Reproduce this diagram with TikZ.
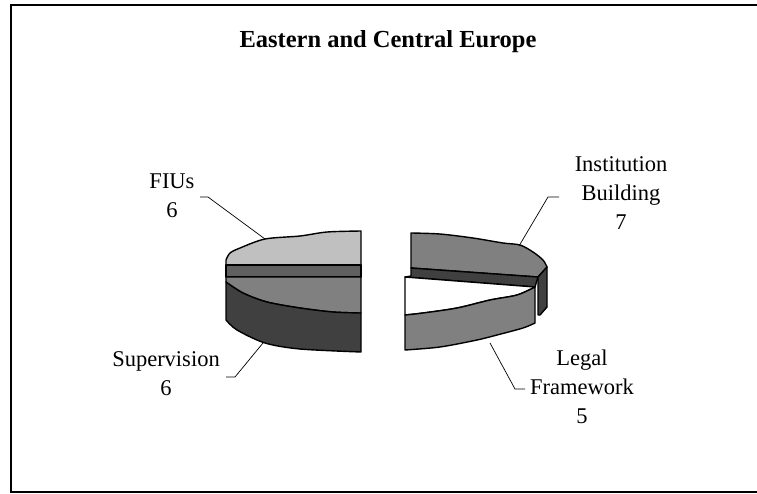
\documentclass[tikz,border=0pt]{standalone}
\usepackage{fontspec}
\setmainfont{Liberation Serif}
\usepackage{xcolor}
\definecolor{lightslice}{RGB}{192,192,192}
\definecolor{midslice}{RGB}{128,128,128}
\definecolor{bandslice}{RGB}{96,96,96}
\definecolor{darkslice}{RGB}{64,64,64}
\usepackage{tikz}
\newcommand{\labelsize}{\fontsize{22.5}{29}\selectfont}
\newcommand{\titlesize}{\fontsize{24.5}{29}\selectfont\bfseries}
\tikzset{
    slice/.style={draw=black, line width=1.4pt, line join=round},
    leader/.style={draw=black, line width=0.7pt},
    frameline/.style={draw=black, line width=1.5pt},
    piecelabel/.style={align=center, font=\labelsize, inner sep=0pt, anchor=base},
    charttitle/.style={font=\titlesize, inner sep=0pt, anchor=base}
}

\begin{document}
\begin{tikzpicture}[x=1pt, y=-1pt]
      \useasboundingbox (0,0) rectangle (757,493);
      \draw[frameline] (757,5) -- (11,5) -- (11,492) -- (757,492);

      \node[charttitle] (title) at (388,47) {Eastern and Central Europe};

      % left piece
      \path[slice, fill=lightslice] (361,231)
          -- plot[smooth] coordinates {(361,231) (327,232) (300,236) (265,239) (240,248) (230,253) (226,260)}
          -- (226,265) -- (361,265) -- cycle;
      \path[slice, fill=bandslice] (226,265) rectangle (361,277);
      \path[slice, fill=midslice] (226,277) -- (361,277) -- (361,313)
          -- plot[smooth] coordinates {(361,313) (333,312) (300,308) (267,302) (243,293) (226,282)}
          -- cycle;
      \path[slice, fill=darkslice] (226,282)
          -- plot[smooth] coordinates {(226,282) (243,293) (267,302) (300,308) (333,312) (361,313)}
          -- (361,352)
          -- plot[smooth] coordinates {(361,352) (300,349) (265,343) (237,330) (226,320)}
          -- cycle;

      % right piece
      \path[slice, fill=midslice] (411,233)
          -- plot[smooth] coordinates {(411,233) (440,234) (473,238) (503,243) (520,245) (533,252) (543,260) (547,267)}
          -- (538,277) -- (411,268) -- cycle;
      \path[slice, fill=darkslice] (411,268) -- (538,277) -- (535,287) -- (405,277) -- (411,276) -- cycle;
      \path[slice, fill=darkslice] (538,277) -- (547,267) -- (547,307) -- (540,315) -- (538,315) -- cycle;
      \path[slice, fill=white] (405,277) -- (535,287)
          -- plot[smooth] coordinates {(535,287) (517,295) (490,300) (457,308) (423,313) (405,315)}
          -- cycle;
      \path[slice, fill=midslice] (405,315)
          -- plot[smooth] coordinates {(405,315) (423,313) (457,308) (490,300) (517,295) (535,287)}
          -- (535,323)
          -- plot[smooth] coordinates {(535,323) (523,328) (497,335) (477,340) (440,347) (405,350)}
          -- cycle;

      % labels (base = last line)
      \node[piecelabel] (fius) at (172,217) {FIUs\\6};
      \node[piecelabel] (supervision) at (166,395) {Supervision\\6};
      \node[piecelabel] (institution) at (621,229) {Institution\\Building\\7};
      \node[piecelabel] (legal) at (582,423) {Legal\\Framework\\5};

      \coordinate (fiusTick) at (200,197);
      \coordinate (fiusEdge) at (265,239);
      \coordinate (supTick) at (226,377);
      \coordinate (supEdge) at (263,343);
      \coordinate (instTick) at (559,197);
      \coordinate (instEdge) at (519,246);
      \coordinate (legalTick) at (525,389);
      \coordinate (legalEdge) at (490,343);

      \draw[leader] (fiusTick) -- ++(8,0) -- (fiusEdge);
      \draw[leader] (supTick) -- ++(9,0) -- (supEdge);
      \draw[leader] (instTick) -- ++(-11,0) -- (instEdge);
      \draw[leader] (legalTick) -- ++(-10,0) -- (legalEdge);
\end{tikzpicture}
\end{document}
